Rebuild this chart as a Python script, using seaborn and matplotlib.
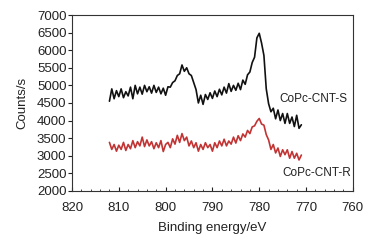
import numpy as np
import pandas as pd
import matplotlib
matplotlib.use("Agg")
import matplotlib.pyplot as plt
import seaborn as sns
from matplotlib.ticker import MultipleLocator

# binding energy grid (eV), 812 -> 771 in 0.5 steps
energy = [812.0, 811.5, 811.0, 810.5, 810.0, 809.5, 809.0, 808.5, 808.0, 807.5,
          807.0, 806.5, 806.0, 805.5, 805.0, 804.5, 804.0, 803.5, 803.0, 802.5,
          802.0, 801.5, 801.0, 800.5, 800.0, 799.5, 799.0, 798.5, 798.0, 797.5,
          797.0, 796.5, 796.0, 795.5, 795.0, 794.5, 794.0, 793.5, 793.0, 792.5,
          792.0, 791.5, 791.0, 790.5, 790.0, 789.5, 789.0, 788.5, 788.0, 787.5,
          787.0, 786.5, 786.0, 785.5, 785.0, 784.5, 784.0, 783.5, 783.0, 782.5,
          782.0, 781.5, 781.0, 780.5, 780.0, 779.5, 779.0, 778.5, 778.0, 777.5,
          777.0, 776.5, 776.0, 775.5, 775.0, 774.5, 774.0, 773.5, 773.0, 772.5,
          772.0, 771.5, 771.0]

counts_s = [4550, 4900, 4620, 4850, 4680, 4900, 4650, 4820, 4700, 4950,
            4620, 5000, 4760, 4950, 4750, 5000, 4820, 4960, 4780, 5000,
            4800, 4950, 4760, 4920, 4720, 4960, 4950, 5080, 5130, 5280,
            5330, 5580, 5400, 5500, 5330, 5280, 5080, 4880, 4500, 4720,
            4460, 4740, 4600, 4790, 4630, 4840, 4680, 4890, 4730, 4950,
            4780, 5050, 4830, 5000, 4860, 5060, 4880, 5150, 5030, 5300,
            5380, 5650, 5800, 6350, 6480, 6200, 5850, 4900, 4480, 4250,
            4350, 4050, 4300, 4000, 4200, 3920, 4200, 3920, 4100, 3830,
            4150, 3780, 3880]

counts_r = [3380, 3180, 3320, 3130, 3300, 3180, 3380, 3150, 3320, 3200,
            3430, 3230, 3400, 3280, 3530, 3260, 3450, 3280, 3400, 3200,
            3370, 3230, 3430, 3120, 3320, 3380, 3230, 3480, 3330, 3580,
            3380, 3630, 3430, 3530, 3280, 3420, 3230, 3370, 3130, 3320,
            3180, 3370, 3230, 3320, 3130, 3370, 3230, 3420, 3280, 3470,
            3280, 3420, 3330, 3530, 3360, 3570, 3430, 3620, 3530, 3720,
            3630, 3820, 3850, 3980, 4060, 3900, 3870, 3600, 3450, 3180,
            3320, 3080, 3220, 2980, 3170, 3030, 3170, 2930, 3120, 2930,
            3070, 2880, 3020]

sns.set_style("ticks")
plt.rcParams['font.family'] = ['Liberation Sans', 'DejaVu Sans']
plt.rcParams['font.size'] = 9

df = pd.DataFrame({
    'energy': energy * 2,
    'counts': counts_s + counts_r,
    'sample': ['CoPc-CNT-S'] * len(energy) + ['CoPc-CNT-R'] * len(energy),
})

fig = plt.figure(figsize=(3.73, 2.42), dpi=100)
ax = fig.add_axes([0.193, 0.211, 0.753, 0.727])
sns.lineplot(data=df, x='energy', y='counts', hue='sample',
             palette={'CoPc-CNT-S': '#111111', 'CoPc-CNT-R': '#c23434'},
             linewidth=1.2, legend=False, ax=ax, sort=False, estimator=None)

ax.set_xlim(820, 760)
ax.set_ylim(2000, 7000)
ax.xaxis.set_major_locator(MultipleLocator(10))
ax.xaxis.set_minor_locator(MultipleLocator(2))
ax.yaxis.set_major_locator(MultipleLocator(500))
ax.tick_params(axis='x', which='major', direction='in', length=3, width=0.8, pad=8)
ax.tick_params(axis='x', which='minor', direction='in', length=1.5, width=0.6)
ax.tick_params(axis='y', direction='out', length=3, width=0.8, pad=1)
ax.tick_params(labelsize=9.5, colors='#222222')
for sp in ax.spines.values():
    sp.set_linewidth(0.8)
    sp.set_color('#333333')

ax.set_xlabel('Binding energy/eV', fontsize=9.5, color='#222222', labelpad=6)
ax.set_ylabel('Counts/s', fontsize=9.5, color='#222222', labelpad=6)

ax.text(775.6, 4614, 'CoPc-CNT-S', fontsize=8.5, color='#222222', ha='left', va='center')
ax.text(775.1, 2513, 'CoPc-CNT-R', fontsize=8.5, color='#222222', ha='left', va='center')

fig.savefig('out.png', dpi=100)
